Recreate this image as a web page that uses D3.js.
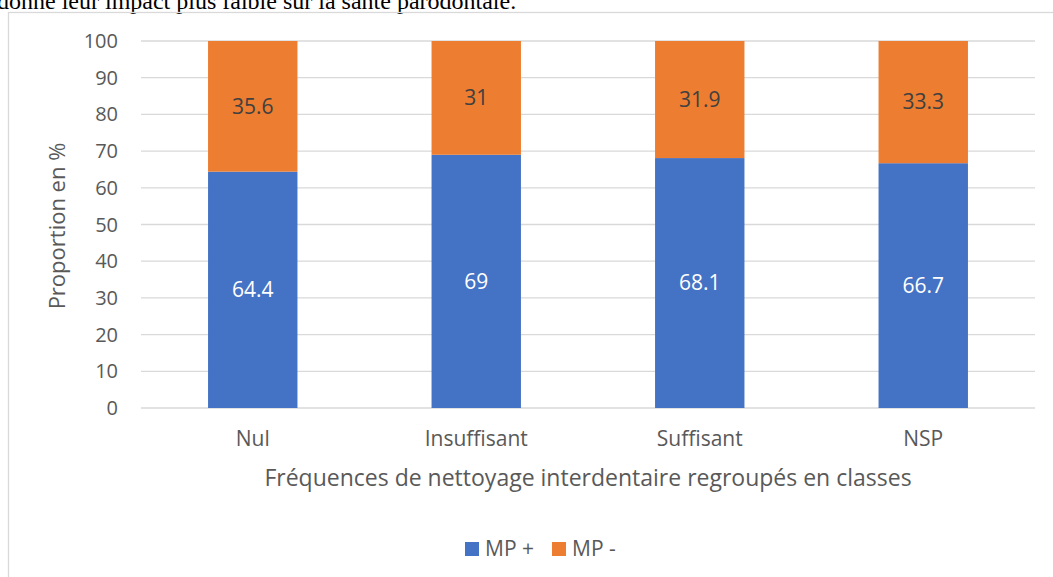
<!DOCTYPE html>
<meta charset="utf-8">
<style>
body { margin: 0; background: white; }
svg { display: block; }
.grid line { stroke: #d9d9d9; stroke-width: 1.3px; }
.ticks text { font: 20px "Open Sans", sans-serif; fill: #595959; }
.xlabels text { font: 21px "Open Sans", sans-serif; fill: #595959; }
.title { font: 23px "Open Sans", sans-serif; fill: #595959; }
.ytitle { font: 22px "Open Sans", sans-serif; fill: #595959; }
.vals text { font: 21px "Open Sans", sans-serif; text-anchor: middle; }
.legend text { font: 21px "Open Sans", sans-serif; fill: #595959; }
</style>
<svg></svg>
<script src="https://cdn.jsdelivr.net/npm/d3@7"></script>
<script>

var width = 1053;
var height = 577;

// data
var categories = ['Nul', 'Insuffisant', 'Suffisant', 'NSP'];
var mpPlus = [64.4, 69, 68.1, 66.7];
var mpMinus = [35.6, 31, 31.9, 33.3];
var yTicks = [0, 10, 20, 30, 40, 50, 60, 70, 80, 90, 100];
var seriesNames = ['MP +', 'MP -'];
var colors = ['#4472c4', '#ed7d31'];

var svg = d3.select('svg')
  .attr('width', width)
  .attr('height', height);

// text from the page above the chart (cut at the top, as in the source)
svg.append('text')
  .attr('x', -3)
  .attr('y', 9)
  .style('font', '24px "Liberation Serif", serif')
  .style('fill', '#000')
  .text('donné leur impact plus faible sur la santé parodontale.');

// chart frame
svg.append('rect')
  .attr('x', 8.5)
  .attr('y', 12.5)
  .attr('width', width + 10)
  .attr('height', height)
  .attr('fill', 'none')
  .attr('stroke', '#d9d9d9')
  .attr('stroke-width', 1.3);

var x = d3.scaleBand()
  .domain(categories)
  .range([141, 1035])
  .paddingInner(0.6)
  .paddingOuter(0.3);

var y = d3.scaleLinear()
  .domain([0, 100])
  .range([408, 41]);

svg.append('g')
  .attr('class', 'grid')
  .selectAll('line')
  .data(yTicks)
  .enter().append('line')
  .attr('x1', 141)
  .attr('x2', 1035)
  .attr('y1', function (d) { return y(d); })
  .attr('y2', function (d) { return y(d); });

svg.append('g')
  .attr('class', 'ticks')
  .selectAll('text')
  .data(yTicks)
  .enter().append('text')
  .attr('x', 118)
  .attr('y', function (d) { return y(d); })
  .attr('dy', '0.35em')
  .attr('text-anchor', 'end')
  .text(function (d) { return d; });

var rows = categories.map(function (c, i) {
  return { cat: c, plus: mpPlus[i], minus: mpMinus[i] };
});

var stack = d3.stack().keys(['plus', 'minus'])(rows);

var layer = svg.append('g')
  .selectAll('g')
  .data(stack)
  .enter().append('g')
  .attr('fill', function (d, i) { return colors[i]; });

layer.selectAll('rect')
  .data(function (d) { return d; })
  .enter().append('rect')
  .attr('x', function (d) { return x(d.data.cat); })
  .attr('width', x.bandwidth())
  .attr('y', function (d) { return y(d[1]); })
  .attr('height', function (d) { return y(d[0]) - y(d[1]); });

var vals = svg.append('g').attr('class', 'vals');
stack.forEach(function (s, i) {
  vals.selectAll('text.s' + i)
    .data(s)
    .enter().append('text')
    .attr('class', 's' + i)
    .attr('x', function (d) { return x(d.data.cat) + x.bandwidth() / 2; })
    .attr('y', function (d) { return y((d[0] + d[1]) / 2); })
    .attr('dy', '0.35em')
    .attr('fill', i === 0 ? '#ffffff' : '#404040')
    .text(function (d) { return i === 0 ? d.data.plus : d.data.minus; });
});

svg.append('g')
  .attr('class', 'xlabels')
  .selectAll('text')
  .data(categories)
  .enter().append('text')
  .attr('x', function (d) { return x(d) + x.bandwidth() / 2; })
  .attr('y', 439)
  .attr('dy', '0.35em')
  .attr('text-anchor', 'middle')
  .text(function (d) { return d; });

svg.append('text')
  .attr('class', 'title')
  .attr('x', 588)
  .attr('y', 478)
  .attr('dy', '0.35em')
  .attr('text-anchor', 'middle')
  .text('Fréquences de nettoyage interdentaire regroupés en classes');

svg.append('text')
  .attr('class', 'ytitle')
  .attr('transform', 'translate(57,226) rotate(-90)')
  .attr('dy', '0.35em')
  .attr('text-anchor', 'middle')
  .text('Proportion en %');

// legend
var legendX = [465, 552];
var legend = svg.append('g')
  .attr('class', 'legend')
  .selectAll('g')
  .data(seriesNames)
  .enter().append('g')
  .attr('transform', function (d, i) { return 'translate(' + legendX[i] + ',542)'; });

legend.append('rect')
  .attr('width', 14)
  .attr('height', 14)
  .attr('fill', function (d, i) { return colors[i]; });

legend.append('text')
  .attr('x', 20)
  .attr('y', 7)
  .attr('dy', '0.35em')
  .text(function (d) { return d; });

</script>
